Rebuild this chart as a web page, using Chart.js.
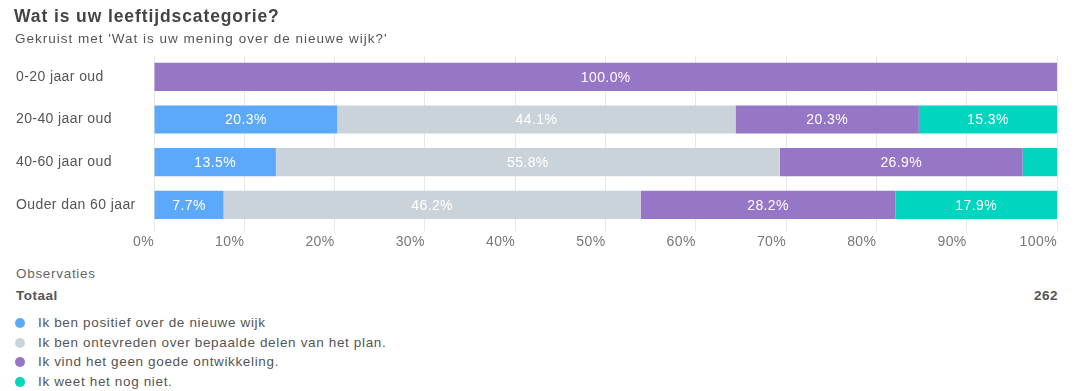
<!DOCTYPE html>
<html>
<head>
<meta charset="utf-8">
<script src="https://cdn.jsdelivr.net/npm/chart.js@4.4.1/dist/chart.umd.min.js"></script>
<style>
    body { margin: 0; background: #fff; font-family: "Liberation Sans", Arial, sans-serif; }
    #wrap { position: relative; width: 1077px; height: 391px; overflow: hidden; }
    #title { position: absolute; left: 14px; top: 6px; font-size: 17.5px; font-weight: bold; color: #444; letter-spacing: 0.9px; }
    #subtitle { position: absolute; left: 15px; top: 31px; font-size: 13.5px; color: #555; letter-spacing: 1px; }
    #chartBox { position: absolute; left: 0; top: 0; width: 1077px; height: 254px; }
    #obs { position: absolute; left: 16px; top: 266px; font-size: 13.5px; color: #666; letter-spacing: 0.7px; }
    #totalRow { position: absolute; left: 16px; top: 288px; width: 1042px; font-size: 13.5px; font-weight: bold; color: #555; letter-spacing: 0.5px; }
    #totalRow span { float: right; }
    #legend { position: absolute; left: 15px; top: 313px; list-style: none; margin: 0; padding: 0; }
    #legend li { height: 19.5px; line-height: 19.5px; font-size: 13.5px; color: #555; letter-spacing: 0.65px; }
    #legend i { display: inline-block; width: 10px; height: 10px; border-radius: 50%; margin-right: 13px; vertical-align: -1px; }
</style>
</head>
<body>
<div id="wrap">
    <div id="chartBox"><canvas id="chart"></canvas></div>
    <div id="title">Wat is uw leeftijdscategorie?</div>
    <div id="subtitle">Gekruist met 'Wat is uw mening over de nieuwe wijk?'</div>
    <div id="obs">Observaties</div>
    <div id="totalRow">Totaal<span id="total"></span></div>
    <ul id="legend"></ul>
</div>
<script>
const categories = ['0-20 jaar oud', '20-40 jaar oud', '40-60 jaar oud', 'Ouder dan 60 jaar'];
const seriesNames = [
    'Ik ben positief over de nieuwe wijk',
    'Ik ben ontevreden over bepaalde delen van het plan.',
    'Ik vind het geen goede ontwikkeling.',
    'Ik weet het nog niet.'
];
const positief = [0, 20.3, 13.5, 7.7];
const ontevreden = [0, 44.1, 55.8, 46.2];
const geenGoede = [100, 20.3, 26.9, 28.2];
const weetNiet = [0, 15.3, 3.8, 17.9];
const seriesColors = ['#5ca9fc', '#cbd3da', '#9676c6', '#00d5bf'];
const xTicks = [0, 10, 20, 30, 40, 50, 60, 70, 80, 90, 100];
const totalObservations = 262;

const seriesValues = [positief, ontevreden, geenGoede, weetNiet];

// the reference text runs a little wide, so space the canvas letters out
const wideText = {
    id: 'wideText',
    beforeDraw(chart) {
        chart.ctx.letterSpacing = '0.4px';
    }
};

// white percentage labels in the middle of each segment
const segmentLabels = {
    id: 'segmentLabels',
    afterDatasetsDraw(chart) {
        const ctx = chart.ctx;
        ctx.save();
        ctx.fillStyle = '#fff';
        ctx.font = '14px "Liberation Sans", Arial, sans-serif';
        ctx.textAlign = 'center';
        ctx.textBaseline = 'middle';
        chart.data.datasets.forEach((ds, i) => {
            chart.getDatasetMeta(i).data.forEach((bar, j) => {
                const v = ds.data[j];
                if (v < 5) return;
                ctx.fillText(v.toFixed(1) + '%', (bar.x + bar.base) / 2, bar.y + 1);
            });
        });
        ctx.restore();
    }
};

new Chart(document.getElementById('chart'), {
    type: 'bar',
    data: {
        labels: categories,
        datasets: seriesNames.map((name, i) => ({
            label: name,
            data: seriesValues[i],
            backgroundColor: seriesColors[i],
            borderWidth: 0,
            barPercentage: 0.66,
            categoryPercentage: 1
        }))
    },
    options: {
        indexAxis: 'y',
        responsive: true,
        maintainAspectRatio: false,
        animation: false,
        layout: { padding: { top: 55.5, left: 16, right: 20, bottom: 0 } },
        plugins: { legend: { display: false }, tooltip: { enabled: false } },
        scales: {
            x: {
                stacked: true,
                min: 0,
                max: 100,
                afterBuildTicks: axis => { axis.ticks = xTicks.map(v => ({ value: v })); },
                border: { display: false },
                grid: { color: '#e8e8e8', tickLength: 5 },
                ticks: {
                    align: 'end',
                    padding: 3,
                    maxRotation: 0,
                    color: '#777',
                    font: { family: '"Liberation Sans", Arial, sans-serif', size: 14 },
                    callback: v => v + '%'
                }
            },
            y: {
                stacked: true,
                border: { display: false },
                grid: { display: false },
                afterFit: axis => { axis.width = 138; },
                ticks: {
                    crossAlign: 'far',
                    color: '#555',
                    font: { family: '"Liberation Sans", Arial, sans-serif', size: 14 }
                }
            }
        }
    },
    plugins: [wideText, segmentLabels]
});

document.getElementById('total').textContent = totalObservations;
const legendList = document.getElementById('legend');
seriesNames.forEach((name, i) => {
    const li = document.createElement('li');
    li.innerHTML = `<i style="background:${seriesColors[i]}"></i>${name}`;
    legendList.appendChild(li);
});
</script>
</body>
</html>
